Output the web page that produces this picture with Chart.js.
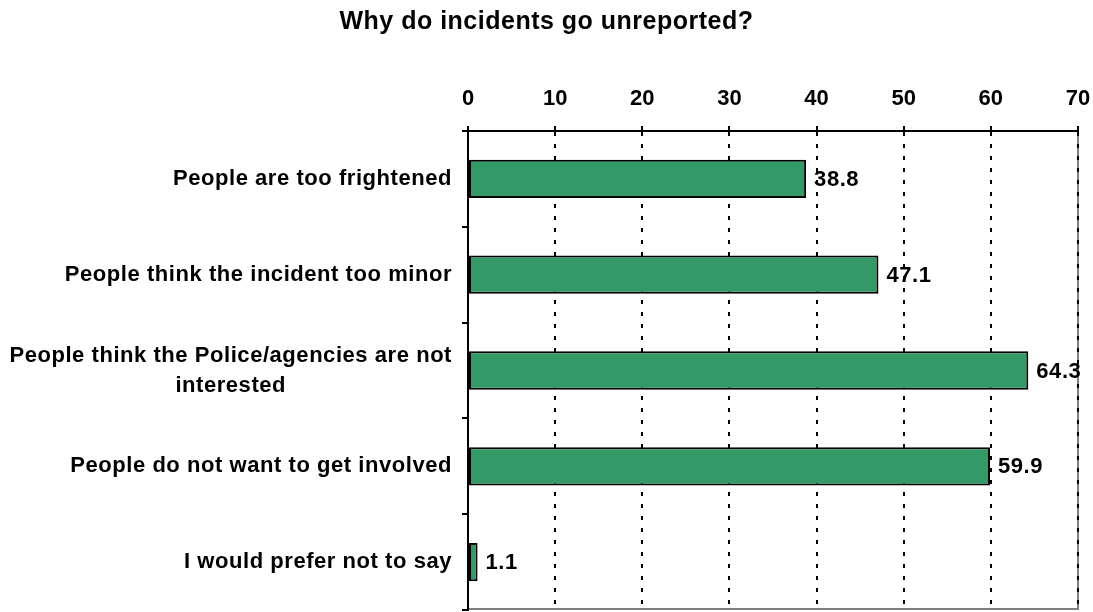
<!DOCTYPE html>
<html lang="en">
<head>
  <meta charset="UTF-8">
  <title>Why do incidents go unreported?</title>
  <script src="https://cdn.jsdelivr.net/npm/chart.js"></script>
  <style>
    body {
      margin: 0;
      padding: 0;
      background: #fff;
    }
    #chartBox {
      width: 1093px;
      height: 612px;
    }
  </style>
</head>
<body>
<div id="chartBox">
  <canvas id="reasonChart"></canvas>
</div>

<script>
  const chartTitle = "Why do incidents go unreported?";
  const categories = [
    "People are too frightened",
    "People think the incident too minor",
    ["People think the Police/agencies are not", "interested"],
    "People do not want to get involved",
    "I would prefer not to say"
  ];
  const values = [38.8, 47.1, 64.3, 59.9, 1.1];
  const axisMin = 0;
  const axisMax = 70;
  const axisStep = 10;

  const FONT = "'Liberation Sans', Arial, sans-serif";

  // white page, gray frame on the plot area, title on top
  const framePlugin = {
    id: "frame",
    beforeDraw(chart) {
      const { ctx, chartArea: a } = chart;
      ctx.save();
      ctx.fillStyle = "#fff";
      ctx.fillRect(0, 0, chart.width, chart.height);
      ctx.strokeStyle = "#808080";
      ctx.lineWidth = 2;
      ctx.strokeRect(a.left, a.top, a.right - a.left, a.bottom - a.top - 1);
      ctx.fillStyle = "#000";
      ctx.font = "bold 25px " + FONT;
      ctx.letterSpacing = "0.5px";
      ctx.textAlign = "center";
      ctx.textBaseline = "middle";
      ctx.fillText(chartTitle, chart.width / 2, 22);
      ctx.restore();
    }
  };

  // category labels (multi-line ones centred inside a right-aligned block) and value labels
  const labelPlugin = {
    id: "labels",
    afterDraw(chart) {
      const { ctx, chartArea: a } = chart;
      const yScale = chart.scales.y;
      const xScale = chart.scales.x;
      ctx.save();
      ctx.fillStyle = "#000";
      ctx.font = "bold 22px " + FONT;
      ctx.letterSpacing = "0.55px";
      ctx.textBaseline = "middle";
      categories.forEach((cat, i) => {
        const y = yScale.getPixelForValue(i);
        const right = a.left - 16;
        if (Array.isArray(cat)) {
          const w = Math.max(...cat.map(s => ctx.measureText(s).width));
          const lh = 30;
          ctx.textAlign = "center";
          cat.forEach((s, k) => {
            ctx.fillText(s, right - w / 2, y + (k - (cat.length - 1) / 2) * lh);
          });
        } else {
          ctx.textAlign = "right";
          ctx.fillText(cat, right, y);
        }
      });
      ctx.textAlign = "left";
      values.forEach((v, i) => {
        ctx.fillText(v.toFixed(1), xScale.getPixelForValue(v) + 8, yScale.getPixelForValue(i) + 1);
      });
      ctx.restore();
    }
  };

  const ctx = document.getElementById("reasonChart").getContext("2d");
  new Chart(ctx, {
    type: "bar",
    data: {
      labels: categories,
      datasets: [{
        data: values,
        backgroundColor: "#339966",
        borderColor: "#000",
        borderWidth: 2,
        borderSkipped: false,
        categoryPercentage: 1,
        barPercentage: 0.4
      }]
    },
    options: {
      indexAxis: "y",
      responsive: true,
      maintainAspectRatio: false,
      animation: false,
      layout: { padding: { left: 0, right: 15, top: 0, bottom: 2 } },
      plugins: {
        legend: { display: false },
        title: { display: false },
        tooltip: { enabled: false }
      },
      scales: {
        x: {
          position: "top",
          min: axisMin,
          max: axisMax,
          afterFit(scale) {
            scale.height = 131;
            scale.paddingLeft = 0;
            scale.paddingRight = 0;
          },
          ticks: {
            stepSize: axisStep,
            color: "#000",
            padding: 14,
            font: { family: FONT, size: 22, weight: "bold" }
          },
          grid: {
            color: "#000",
            lineWidth: 2,
            tickLength: 5,
            tickColor: "#000",
            tickWidth: 2,
            tickBorderDash: []
          },
          border: { display: true, color: "#000", width: 2, dash: [4, 8] }
        },
        y: {
          afterFit(scale) {
            scale.width = 468;
            scale.paddingTop = 0;
            scale.paddingBottom = 0;
          },
          ticks: {
            callback: () => "",
            font: { family: FONT, size: 22, weight: "bold" }
          },
          grid: {
            drawOnChartArea: false,
            drawTicks: true,
            tickLength: 6,
            color: "#000",
            lineWidth: 2
          },
          border: { display: true, color: "#000", width: 2 }
        }
      }
    },
    plugins: [framePlugin, labelPlugin]
  });
</script>
</body>
</html>
